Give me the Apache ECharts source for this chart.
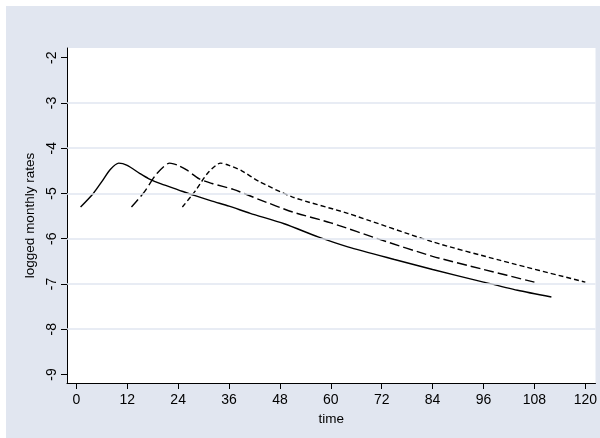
<!DOCTYPE html>
<html>
<head>
<meta charset="utf-8">
<script src="https://cdn.jsdelivr.net/npm/echarts@6/dist/echarts.min.js"></script>
<style>
html,body{margin:0;padding:0;background:#fff;}
#chart{width:600px;height:438px;}
</style>
</head>
<body>
<div id="chart"></div>
<script>
// Data
var xTicks = [0, 12, 24, 36, 48, 60, 72, 84, 96, 108, 120];
var yTicks = [-9, -8, -7, -6, -5, -4, -3, -2];
var gridValues = [-8, -7, -6, -5, -4, -3];

var s1Time = [1, 4, 6, 8, 10, 12, 15, 17, 20, 24, 28, 32, 36, 41, 49, 57, 64, 75, 84, 96, 104, 112];
var s1Rate = [-5.30, -5.00, -4.74, -4.47, -4.33, -4.38, -4.56, -4.67, -4.79, -4.92, -5.05, -5.17, -5.28, -5.44, -5.67, -5.96, -6.18, -6.46, -6.68, -6.96, -7.14, -7.29];

var s2Time = [13, 16, 19, 22, 24, 26, 29, 32, 37, 43, 51, 60, 72, 84, 96, 108];
var s2Rate = [-5.30, -4.97, -4.56, -4.33, -4.38, -4.48, -4.68, -4.78, -4.91, -5.13, -5.41, -5.65, -6.03, -6.39, -6.68, -6.96];

var s3Time = [25, 28, 31, 34, 36, 39, 43, 51, 64, 84, 100, 120];
var s3Rate = [-5.30, -4.95, -4.55, -4.33, -4.38, -4.50, -4.73, -5.08, -5.44, -6.07, -6.48, -6.96];

function pairs(xs, ys) { return xs.map(function (x, i) { return [x, ys[i]]; }); }

var FONT = 'Liberation Sans, Arial, sans-serif';
var BG = '#e1e6f0';

var chart = echarts.init(document.getElementById('chart'), null, {renderer: 'canvas'});
chart.setOption({
  backgroundColor: '#ffffff',
  animation: false,
  graphic: [{
    type: 'rect', left: 6, top: 6, z: -10,
    shape: {x: 0, y: 0, width: 594, height: 432},
    style: {fill: BG}
  }],
  grid: {
    left: 67, top: 48, right: 4, bottom: 55,
    show: true, backgroundColor: '#ffffff', borderWidth: 0
  },
  xAxis: {
    type: 'value', min: -2.2, max: 122.4,
    name: 'time', nameLocation: 'middle', nameGap: 27,
    nameTextStyle: {color: '#000', fontFamily: FONT, fontSize: 13.5},
    axisLine: {show: true, onZero: false, lineStyle: {color: '#000', width: 1}},
    axisTick: {show: true, length: 6, customValues: xTicks, lineStyle: {color: '#000'}},
    axisLabel: {customValues: xTicks, color: '#000', fontFamily: FONT, fontSize: 14, margin: 10},
    splitLine: {show: false}
  },
  yAxis: {
    type: 'value', min: -9.19, max: -1.785,
    name: 'logged monthly rates', nameLocation: 'middle', nameGap: 28, nameRotate: 90,
    nameTextStyle: {color: '#000', fontFamily: FONT, fontSize: 13.5},
    axisLine: {show: true, onZero: false, lineStyle: {color: '#000', width: 1}},
    axisTick: {show: true, length: 6, customValues: yTicks, lineStyle: {color: '#000'}},
    axisLabel: {customValues: yTicks, rotate: 90, color: '#000', fontFamily: FONT, fontSize: 14, margin: 8},
    splitLine: {show: false}
  },
  series: [
    {
      type: 'line', data: [], silent: true, z: 1,
      markLine: {
        silent: true, symbol: ['none', 'none'], label: {show: false},
        lineStyle: {color: BG, width: 1.5, type: 'solid'},
        data: gridValues.map(function (v) { return {yAxis: v}; })
      }
    },
    {
      type: 'line', data: pairs(s1Time, s1Rate), showSymbol: false, smooth: 0.25, z: 3,
      lineStyle: {color: '#000', width: 1.4, type: 'solid'}
    },
    {
      type: 'line', data: pairs(s2Time, s2Rate), showSymbol: false, smooth: 0.25, z: 3,
      lineStyle: {color: '#000', width: 1.4, type: [10, 4]}
    },
    {
      type: 'line', data: pairs(s3Time, s3Rate), showSymbol: false, smooth: 0.25, z: 3,
      lineStyle: {color: '#000', width: 1.4, type: [5, 3]}
    }
  ]
});
</script>
</body>
</html>
